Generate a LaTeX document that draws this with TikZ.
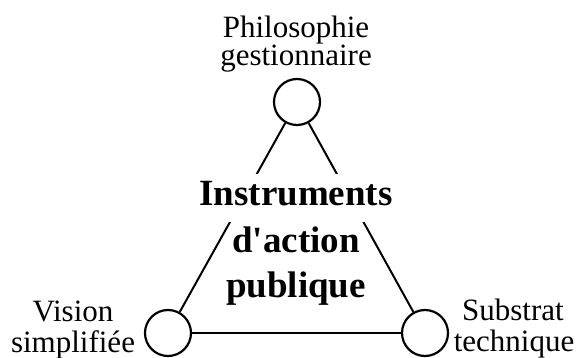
\documentclass[tikz,border=0pt]{standalone}
\usepackage{fontspec}
\setmainfont{Liberation Serif}[Ligatures=TeXOff]
\begin{document}
\begin{tikzpicture}[x=1pt,y=1pt,
  pole/.style={circle,draw=black,line width=2.2pt,minimum size=46pt,inner sep=0pt,fill=white},
  link/.style={draw=black,line width=2pt},
  lab/.style={font=\fontsize{31}{30}\selectfont,anchor=base,inner sep=0pt},
  core/.style={font=\fontsize{37}{46}\selectfont\bfseries,anchor=base,inner sep=0pt}]
\useasboundingbox (0,0) rectangle (578,-358);
\node[pole] (top) at (297,-102) {};
\node[pole] (left) at (168,-333) {};
\node[pole] (right) at (425,-333) {};
\draw[link] (top) -- (left);
\draw[link] (top) -- (right);
\draw[link] (left) -- (right);
\node[core,fill=white,text height=31pt,text depth=17pt,inner xsep=5pt] (c1) at (296,-205) {Instruments};
\node[core] (c2) at (296,-252) {d'action};
\node[core] (c3) at (296,-297) {publique};
\node[lab] (t1) at (296,-38) {Philosophie};
\node[lab] (t2) at (296,-66) {gestionnaire};
\node[lab] (l1) at (73,-321) {Vision};
\node[lab] (l2) at (73,-352) {simplifiée};
\node[lab] (r1) at (513,-320) {Substrat};
\node[lab] (r2) at (514,-351) {technique};
\end{tikzpicture}
\end{document}
